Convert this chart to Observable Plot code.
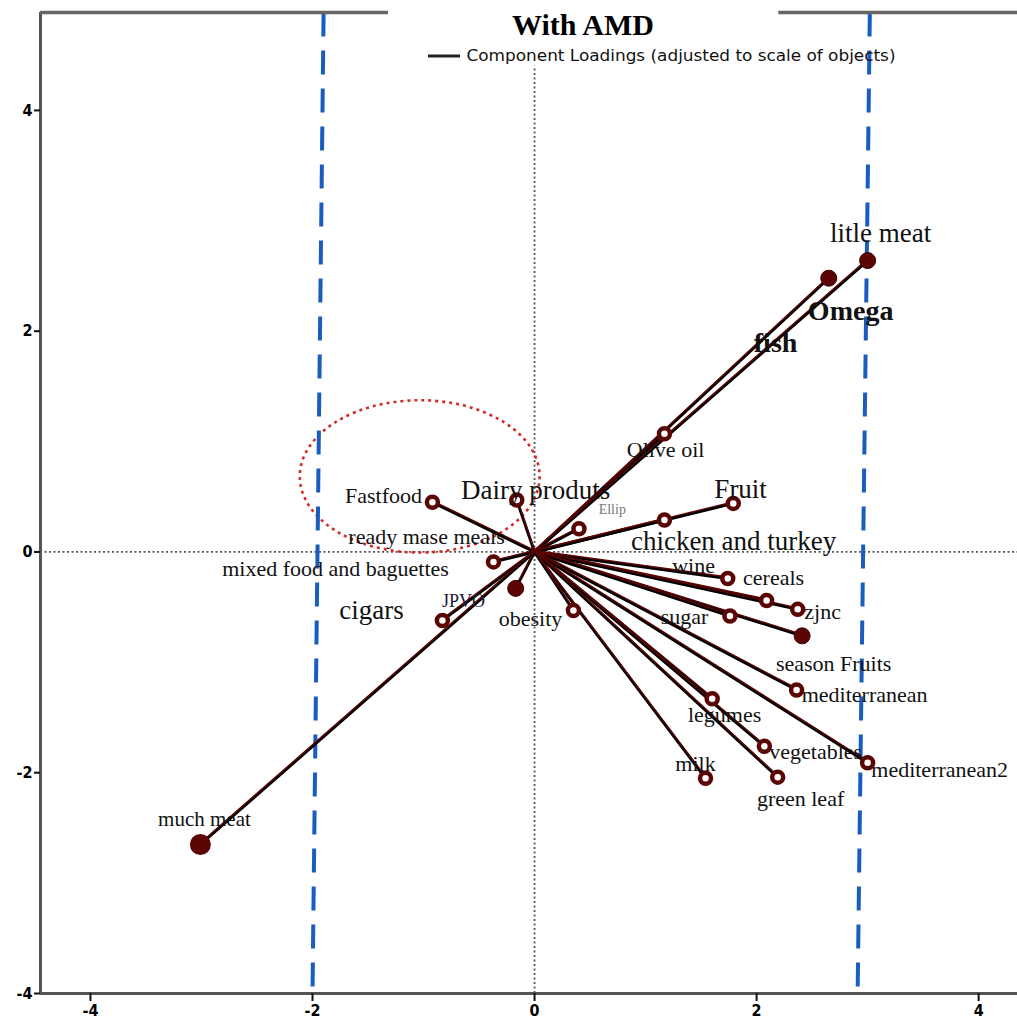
<!DOCTYPE html>
<html>
<head>
<meta charset="utf-8">
<script src="https://cdn.jsdelivr.net/npm/d3@7"></script>
<script src="https://cdn.jsdelivr.net/npm/@observablehq/plot@0.6"></script>
<style>
  html, body { margin: 0; padding: 0; background: #fff; }
  #chart svg { display: block; }
</style>
</head>
<body>
<div id="chart"></div>
<script>
// ---- Data ----
const vectorNames = ["litle meat", "Omega", "Olive oil", "Fruit", "chicken and turkey", "Dairy produts",
  "Fastfood", "Ellip", "mixed food and baguettes", "unnamed", "JPVO", "much meat", "obesity",
  "cereals", "wine", "zjnc", "sugar", "season Fruits", "mediterranean", "legumes", "vegetables",
  "mediterranean2", "milk", "green leaf"];
const vectorX = [3.00, 2.65, 1.17, 1.79, 1.17, -0.16, -0.92, 0.40, -0.37, -0.17, -0.83, -3.01, 0.35,
  1.74, 2.09, 2.37, 1.76, 2.41, 2.36, 1.60, 2.07, 3.00, 1.54, 2.19];
const vectorY = [2.64, 2.48, 1.07, 0.44, 0.29, 0.47, 0.45, 0.21, -0.09, -0.33, -0.62, -2.65, -0.53,
  -0.24, -0.44, -0.52, -0.58, -0.76, -1.25, -1.33, -1.76, -1.91, -2.05, -2.04];

const labelTexts = ["litle meat", "Omega", "fish", "Olive oil", "Fruit", "chicken and turkey", "Dairy produts",
  "Fastfood", "ready mase meals", "mixed food and baguettes", "cigars", "JPVO", "much meat", "obesity",
  "wine", "cereals", "zjnc", "sugar", "season Fruits", "mediterranean", "legumes", "vegetables",
  "mediterranean2", "milk", "green leaf", "Ellip"];
const labelX = [3.117, 2.847, 2.171, 1.18, 1.856, 1.793, 0.009, -1.36, -0.973, -1.793, -1.468, -0.64, -2.973,
  -0.036, 1.432, 2.153, 2.595, 1.351, 2.694, 2.973, 1.712, 2.532, 3.649, 1.45, 2.396, 0.70];
const labelY = [2.89, 2.183, 1.893, 0.924, 0.571, 0.10, 0.56, 0.507, 0.136, -0.154, -0.525, -0.444, -2.418,
  -0.61, -0.13, -0.236, -0.548, -0.593, -1.019, -1.293, -1.481, -1.809, -1.975, -1.916, -2.241, 0.38];

const xTicks = [-4, -2, 0, 2, 4];
const yTicks = [-4, -2, 0, 2, 4];

// dashed blue reference lines (top x, bottom x)
const blueTopX = [-1.90, 3.02];
const blueBottomX = [-2.00, 2.91];

// red dotted ellipse (data units)
const ellipseCenter = [-1.03, 0.68];
const ellipseRadii = [1.08, 0.69];

const titleText = "With AMD";
const legendText = "Component Loadings (adjusted to scale of objects)";

// ---- Layout constants ----
const xMin = -4.45, xMax = 4.35, yMin = -4.0, yMax = 4.887;
const titleGap = [-1.315, 2.2];
const legendLine = [-0.955, -0.667];
const legendY = 4.493;
const zeroLineTop = 4.40;

const bigLabels = new Set(["litle meat", "Fruit", "chicken and turkey", "Dairy produts", "cigars"]);
const boldLabels = new Set(["Omega", "fish"]);
const smallLabels = new Set(["JPVO", "Ellip", "much meat"]);
const solidMarkers = new Set(["litle meat", "Omega", "season Fruits", "unnamed"]);

const vectors = vectorNames.map((name, i) => ({name, x: vectorX[i], y: vectorY[i]}));
const labels = labelTexts.map((text, i) => ({text, x: labelX[i], y: labelY[i]}));
const blue = blueTopX.map((t, i) => ({x1: t, x2: blueBottomX[i]}));

const maroon = "#5c0505";
const serif = "'Liberation Serif', 'Times New Roman', serif";
const narrow = "'Liberation Sans Narrow', 'DejaVu Sans Condensed', 'Liberation Sans', sans-serif";

const chart = Plot.plot({
  width: 1017,
  height: 1026,
  marginLeft: 40,
  marginRight: 0,
  marginTop: 12,
  marginBottom: 33,
  x: {domain: [xMin, xMax]},
  y: {domain: [yMin, yMax]},
  style: {background: "white", fontFamily: serif},
  marks: [
    // zero reference lines
    Plot.ruleY([0], {x1: xMin, x2: xMax, stroke: "#555", strokeWidth: 1.8, strokeDasharray: "2,2.5"}),
    Plot.ruleX([0], {y1: yMin, y2: zeroLineTop, stroke: "#555", strokeWidth: 1.8, strokeDasharray: "2,2.5"}),
    // blue dashed lines
    Plot.link(blue, {x1: "x1", y1: () => yMax, x2: "x2", y2: () => yMin,
      stroke: "#1a5cbf", strokeWidth: 4, strokeDasharray: "24,14"}),
    // vectors
    Plot.link(vectors, {x1: () => 0, y1: () => 0, x2: "x", y2: "y", stroke: "#000", strokeWidth: 3}),
    Plot.link(vectors, {x1: () => 0, y1: () => 0, x2: "x", y2: "y", stroke: maroon, strokeWidth: 1.4, dy: -1.5}),
    // markers
    Plot.dot(vectors.filter(d => !solidMarkers.has(d.name) && d.name !== "much meat"),
      {x: "x", y: "y", r: 5.5, fill: "white", stroke: maroon, strokeWidth: 4.5}),
    Plot.dot(vectors.filter(d => solidMarkers.has(d.name)),
      {x: "x", y: "y", r: 8, fill: maroon, stroke: "#3a0000", strokeWidth: 1}),
    Plot.dot(vectors.filter(d => d.name === "much meat"),
      {x: "x", y: "y", r: 10.5, fill: maroon}),
    // labels
    Plot.text(labels.filter(d => !bigLabels.has(d.text) && !boldLabels.has(d.text) && !smallLabels.has(d.text)),
      {x: "x", y: "y", text: "text", fontSize: 22, fill: "#111"}),
    Plot.text(labels.filter(d => bigLabels.has(d.text)),
      {x: "x", y: "y", text: "text", fontSize: 27, fill: "#111"}),
    Plot.text(labels.filter(d => boldLabels.has(d.text)),
      {x: "x", y: "y", text: "text", fontSize: 28, fontWeight: "bold", fill: "#111"}),
    Plot.text(labels.filter(d => d.text === "much meat"),
      {x: "x", y: "y", text: "text", fontSize: 21, fill: "#111"}),
    Plot.text(labels.filter(d => d.text === "JPVO"),
      {x: "x", y: "y", text: "text", fontSize: 18, fill: "#1a1a3a"}),
    Plot.text(labels.filter(d => d.text === "Ellip"),
      {x: "x", y: "y", text: "text", fontSize: 14, fill: "#777"}),
    // frame
    Plot.ruleX([xMin], {y1: yMin, y2: yMax, stroke: "#555", strokeWidth: 3}),
    Plot.ruleY([yMin], {x1: xMin, x2: xMax, stroke: "#555", strokeWidth: 3}),
    Plot.ruleY([yMax], {x1: xMin, x2: titleGap[0], stroke: "#666", strokeWidth: 3.5}),
    Plot.ruleY([yMax], {x1: titleGap[1], x2: xMax, stroke: "#666", strokeWidth: 3.5}),
    // axes
    Plot.axisX({ticks: xTicks, tickSize: 8, tickPadding: 3, tickFormat: d => String(d),
      fontSize: 16, fontWeight: "bold", fontFamily: narrow, stroke: "#111", strokeWidth: 2, label: null}),
    Plot.axisY({ticks: yTicks, tickSize: 6, tickPadding: 2, tickFormat: d => String(d),
      fontSize: 16, fontWeight: "bold", fontFamily: narrow, stroke: "#111", strokeWidth: 2, label: null}),
    // title
    Plot.text([titleText], {frameAnchor: "top", dx: 54, dy: 1, lineAnchor: "top", text: d => d,
      fontSize: 30, fontWeight: "bold", fontFamily: serif, fill: "#000"}),
    // legend
    Plot.ruleY([legendY], {x1: legendLine[0], x2: legendLine[1], stroke: "#222", strokeWidth: 3}),
    Plot.text([legendText], {x: legendLine[1] + 0.054, y: legendY, text: d => d, textAnchor: "start",
      fontSize: 16, fontFamily: narrow, fill: "#111"})
  ]
});

// red dotted ellipse positioned through the plot's own scales
const sx = chart.scale("x"), sy = chart.scale("y");
const cx = sx.apply(ellipseCenter[0]), cy = sy.apply(ellipseCenter[1]);
const rx = Math.abs(sx.apply(ellipseCenter[0] + ellipseRadii[0]) - cx);
const ry = Math.abs(sy.apply(ellipseCenter[1] + ellipseRadii[1]) - cy);
const svg = d3.select(chart);
const firstLink = svg.select("g[aria-label='link']").node();
const ell = document.createElementNS("http://www.w3.org/2000/svg", "ellipse");
ell.setAttribute("cx", cx); ell.setAttribute("cy", cy);
ell.setAttribute("rx", rx); ell.setAttribute("ry", ry);
ell.setAttribute("fill", "none"); ell.setAttribute("stroke", "#d42a2a");
ell.setAttribute("stroke-width", 2.6); ell.setAttribute("stroke-dasharray", "3,4");
if (firstLink) chart.insertBefore(ell, firstLink); else chart.appendChild(ell);

// stretch legend text to the reference width
svg.selectAll("text").filter(function() { return this.textContent === legendText; })
  .attr("textLength", 429).attr("lengthAdjust", "spacingAndGlyphs");

document.getElementById("chart").appendChild(chart);
</script>
</body>
</html>
